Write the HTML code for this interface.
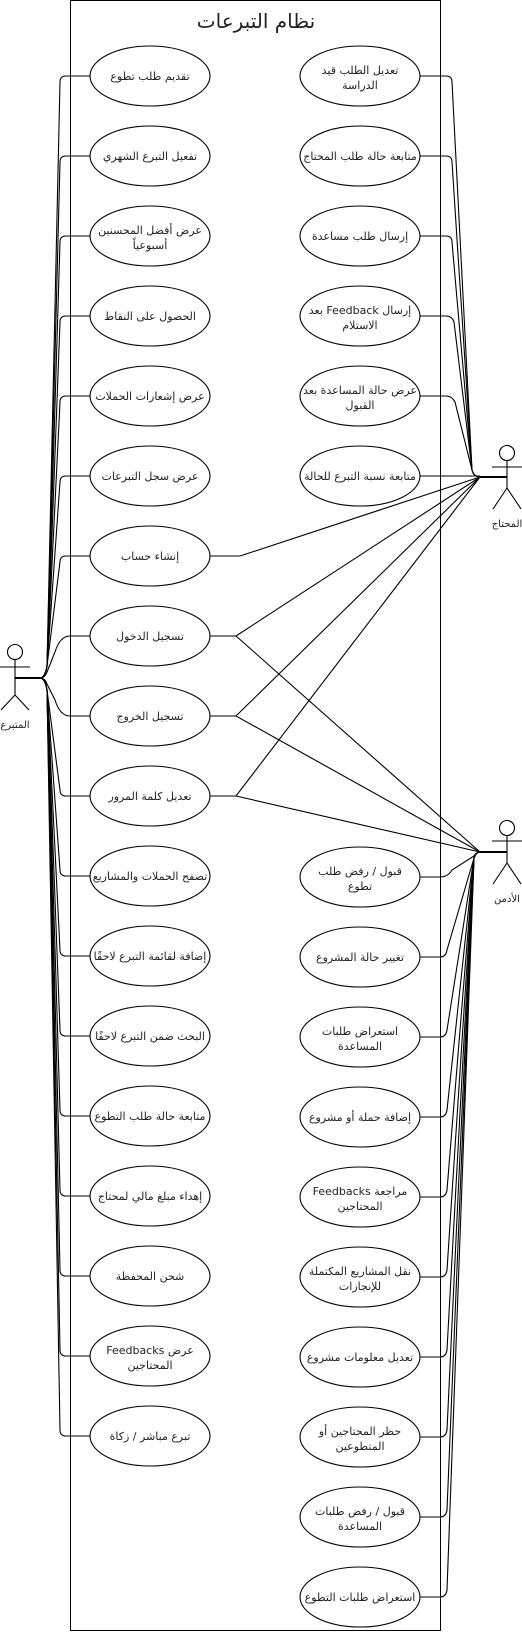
<!DOCTYPE html>
<html><head><meta charset="utf-8"><style>
html,body{margin:0;padding:0;background:#fff;}
svg{display:block;}
text{font-family:"DejaVu Sans","Noto Sans CJK SC",sans-serif;font-size:11px;fill:#222;text-anchor:middle;direction:rtl;unicode-bidi:embed;}
</style></head><body>
<svg width="522" height="1641" viewBox="0 0 522 1641" xmlns="http://www.w3.org/2000/svg">
<rect x="70.5" y="0.5" width="370" height="1630" fill="#fff" stroke="#000" stroke-width="1"/>
<text x="256" y="28" style="font-size:20px">نظام التبرعات</text>
<g fill="none" stroke="#000" stroke-width="1.1">
<path d="M90,76H66Q60,76 60,82L47,666Q45,678 40,678"/>
<path d="M90,156H66Q60,156 60,162L47,666Q45,678 40,678"/>
<path d="M90,236H66Q60,236 60,242L47,666Q45,678 40,678"/>
<path d="M90,316H66Q60,316 60,322L47,666Q45,678 40,678"/>
<path d="M90,396H66Q60,396 60,402L47,666Q45,678 40,678"/>
<path d="M90,476H66Q60,476 60,482L47,666Q45,678 40,678"/>
<path d="M90,556H66Q60,556 60,562L47,666Q45,678 40,678"/>
<path d="M90,636H70Q60,636 55,652L47,672Q45,678 40,678"/>
<path d="M90,716H70Q60,716 55,700L47,684Q45,678 40,678"/>
<path d="M90,796H66Q60,796 60,790L47,690Q45,678 40,678"/>
<path d="M90,876H66Q60,876 60,870L47,690Q45,678 40,678"/>
<path d="M90,956H66Q60,956 60,950L47,690Q45,678 40,678"/>
<path d="M90,1036H66Q60,1036 60,1030L47,690Q45,678 40,678"/>
<path d="M90,1116H66Q60,1116 60,1110L47,690Q45,678 40,678"/>
<path d="M90,1196H66Q60,1196 60,1190L47,690Q45,678 40,678"/>
<path d="M90,1276H66Q60,1276 60,1270L47,690Q45,678 40,678"/>
<path d="M90,1356H66Q60,1356 60,1350L47,690Q45,678 40,678"/>
<path d="M90,1436H66Q60,1436 60,1430L47,690Q45,678 40,678"/>
<path d="M15,678H40" stroke-width="2"/>
<path d="M420,76H446Q452,76 452,82L472,470Q474,477 480,477"/>
<path d="M420,156H446Q452,156 452,162L472,470Q474,477 480,477"/>
<path d="M420,236H446Q452,236 452,242L472,470Q474,477 480,477"/>
<path d="M420,316H446Q452,316 454,322L472,470Q474,477 480,477"/>
<path d="M420,396H446Q452,396 455,402L472,470Q474,477 480,477"/>
<path d="M420,476H480"/>
<path d="M210,556H240L480,477"/>
<path d="M210,636H236L480,477"/>
<path d="M210,716H236L480,477"/>
<path d="M210,796H236L480,477"/>
<path d="M480,477H507" stroke-width="2"/>
<path d="M210,636H236L480,852"/>
<path d="M210,716H236L480,852"/>
<path d="M210,796H236L480,852"/>
<path d="M420,877H440Q448,877 452,870L474,856Q476,852 480,852"/>
<path d="M420,957H440Q446,957 447,950L474,858Q476,852 480,852"/>
<path d="M420,1037H440Q446,1037 447,1030L474,858Q476,852 480,852"/>
<path d="M420,1117H440Q446,1117 447,1110L474,858Q476,852 480,852"/>
<path d="M420,1197H440Q446,1197 447,1190L474,858Q476,852 480,852"/>
<path d="M420,1277H440Q446,1277 447,1270L474,858Q476,852 480,852"/>
<path d="M420,1357H440Q446,1357 447,1350L474,858Q476,852 480,852"/>
<path d="M420,1437H440Q446,1437 447,1430L474,858Q476,852 480,852"/>
<path d="M420,1517H440Q446,1517 447,1510L474,858Q476,852 480,852"/>
<path d="M420,1597H440Q446,1597 447,1590L474,858Q476,852 480,852"/>
<path d="M480,852H507" stroke-width="2"/>
<circle cx="15" cy="652" r="7.5"/><path d="M15,660V695M0,667H30M15,695L1,710M15,695L29,710"/>
<circle cx="507" cy="453" r="7.5"/><path d="M507,461V488M492,467H522M507,488L493,509M507,488L521,509"/>
<circle cx="507" cy="828" r="7.5"/><path d="M507,836V863M492,841H522M507,863L493,884M507,863L521,884"/>
<ellipse cx="150" cy="76" rx="60" ry="30"/><ellipse cx="150" cy="156" rx="60" ry="30"/>
<ellipse cx="150" cy="236" rx="60" ry="30"/><ellipse cx="150" cy="316" rx="60" ry="30"/>
<ellipse cx="150" cy="396" rx="60" ry="30"/><ellipse cx="150" cy="476" rx="60" ry="30"/>
<ellipse cx="150" cy="556" rx="60" ry="30"/><ellipse cx="150" cy="636" rx="60" ry="30"/>
<ellipse cx="150" cy="716" rx="60" ry="30"/><ellipse cx="150" cy="796" rx="60" ry="30"/>
<ellipse cx="150" cy="876" rx="60" ry="30"/><ellipse cx="150" cy="956" rx="60" ry="30"/>
<ellipse cx="150" cy="1036" rx="60" ry="30"/><ellipse cx="150" cy="1116" rx="60" ry="30"/>
<ellipse cx="150" cy="1196" rx="60" ry="30"/><ellipse cx="150" cy="1276" rx="60" ry="30"/>
<ellipse cx="150" cy="1356" rx="60" ry="30"/><ellipse cx="150" cy="1436" rx="60" ry="30"/>
<ellipse cx="360" cy="76" rx="60" ry="30"/><ellipse cx="360" cy="156" rx="60" ry="30"/>
<ellipse cx="360" cy="236" rx="60" ry="30"/><ellipse cx="360" cy="316" rx="60" ry="30"/>
<ellipse cx="360" cy="396" rx="60" ry="30"/><ellipse cx="360" cy="476" rx="60" ry="30"/>
<ellipse cx="360" cy="877" rx="60" ry="30"/><ellipse cx="360" cy="957" rx="60" ry="30"/>
<ellipse cx="360" cy="1037" rx="60" ry="30"/><ellipse cx="360" cy="1117" rx="60" ry="30"/>
<ellipse cx="360" cy="1197" rx="60" ry="30"/><ellipse cx="360" cy="1277" rx="60" ry="30"/>
<ellipse cx="360" cy="1357" rx="60" ry="30"/><ellipse cx="360" cy="1437" rx="60" ry="30"/>
<ellipse cx="360" cy="1517" rx="60" ry="30"/><ellipse cx="360" cy="1597" rx="60" ry="30"/>
</g>
<text x="15" y="728" style="font-size:10px">المتبرع</text>
<text x="507" y="527" style="font-size:10px">المحتاج</text>
<text x="507" y="902" style="font-size:10px">الأدمن</text>
<text x="150" y="80">تقديم طلب تطوع</text>
<text x="150" y="160">تفعيل التبرع الشهري</text>
<text x="150" y="234">عرض أفضل المحسنين</text><text x="150" y="249">أسبوعياً</text>
<text x="150" y="320">الحصول على النقاط</text>
<text x="150" y="400">عرض إشعارات الحملات</text>
<text x="150" y="480">عرض سجل التبرعات</text>
<text x="150" y="560">إنشاء حساب</text>
<text x="150" y="640">تسجيل الدخول</text>
<text x="150" y="720">تسجيل الخروج</text>
<text x="150" y="800">تعديل كلمة المرور</text>
<text x="150" y="880">تصفح الحملات والمشاريع</text>
<text x="150" y="960">إضافة لقائمة التبرع لاحقًا</text>
<text x="150" y="1040">البحث ضمن التبرع لاحقًا</text>
<text x="150" y="1120">متابعة حالة طلب التطوع</text>
<text x="150" y="1200">إهداء مبلغ مالي لمحتاج</text>
<text x="150" y="1280">شحن المحفظة</text>
<text x="150" y="1354">عرض Feedbacks</text><text x="150" y="1369">المحتاجين</text>
<text x="150" y="1440">تبرع مباشر / زكاة</text>
<text x="360" y="74">تعديل الطلب قيد</text><text x="360" y="89">الدراسة</text>
<text x="360" y="160">متابعة حالة طلب المحتاج</text>
<text x="360" y="240">إرسال طلب مساعدة</text>
<text x="360" y="314">إرسال Feedback بعد</text><text x="360" y="329">الاستلام</text>
<text x="360" y="394">عرض حالة المساعدة بعد</text><text x="360" y="409">القبول</text>
<text x="360" y="480">متابعة نسبة التبرع للحالة</text>
<text x="360" y="875">قبول / رفض طلب</text><text x="360" y="890">تطوع</text>
<text x="360" y="961">تغيير حالة المشروع</text>
<text x="360" y="1035">استعراض طلبات</text><text x="360" y="1050">المساعدة</text>
<text x="360" y="1121">إضافة حملة أو مشروع</text>
<text x="360" y="1195">مراجعة Feedbacks</text><text x="360" y="1210">المحتاجين</text>
<text x="360" y="1275">نقل المشاريع المكتملة</text><text x="360" y="1290">للإنجازات</text>
<text x="360" y="1361">تعديل معلومات مشروع</text>
<text x="360" y="1435">حظر المحتاجين أو</text><text x="360" y="1450">المتطوعين</text>
<text x="360" y="1515">قبول / رفض طلبات</text><text x="360" y="1530">المساعدة</text>
<text x="360" y="1601">استعراض طلبات التطوع</text>
</svg>
</body></html>
